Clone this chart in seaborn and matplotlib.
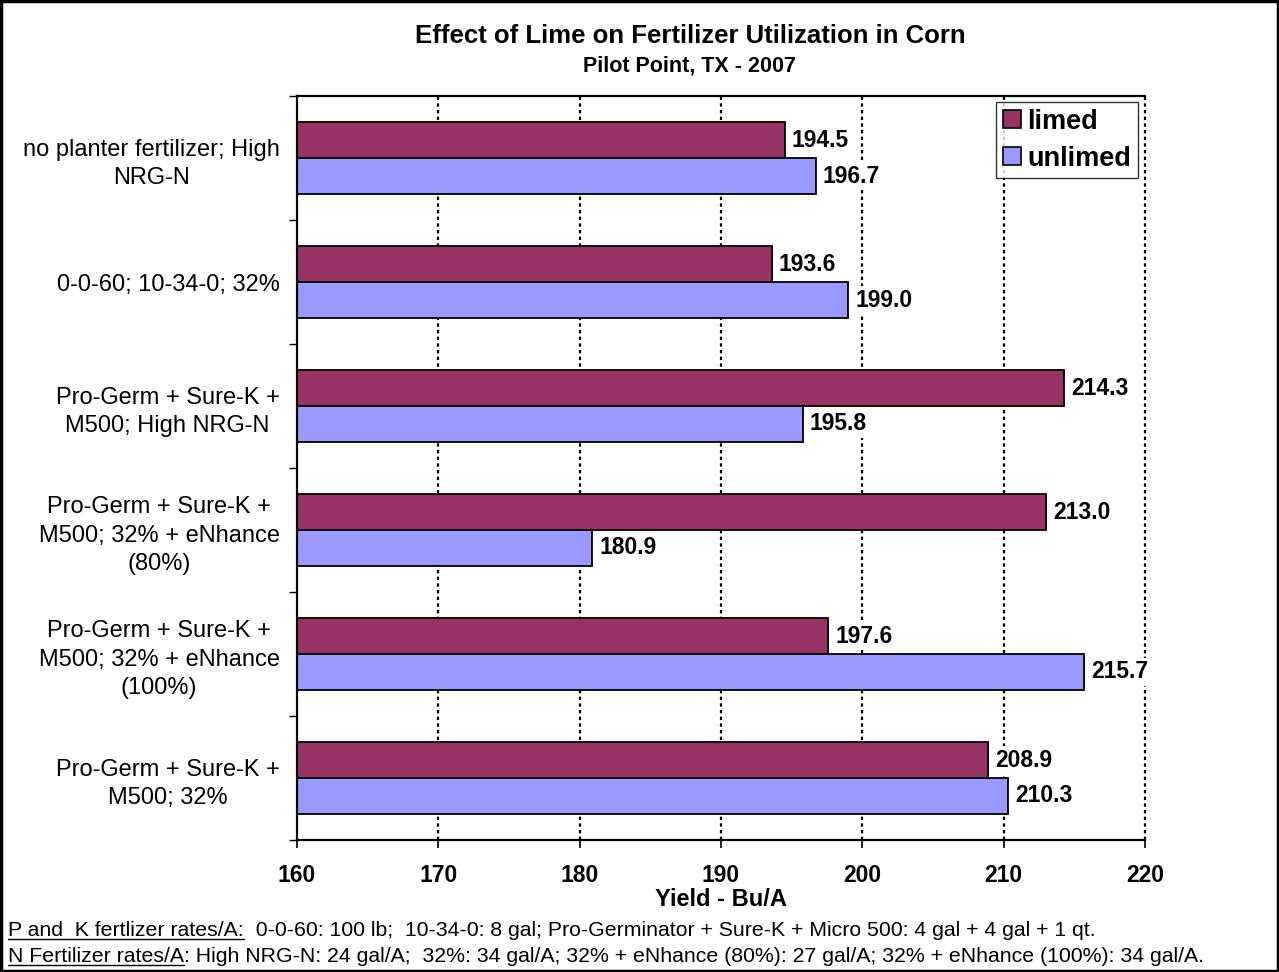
import pandas as pd
import matplotlib
matplotlib.use('Agg')
import matplotlib.pyplot as plt
from matplotlib.lines import Line2D
from matplotlib.patches import Rectangle
import seaborn as sns

# Data (top to bottom)
treatments = ['no planter fertilizer; High\nNRG-N',
              '0-0-60; 10-34-0; 32%',
              'Pro-Germ + Sure-K +\nM500; High NRG-N',
              'Pro-Germ + Sure-K +\nM500; 32% + eNhance\n(80%)',
              'Pro-Germ + Sure-K +\nM500; 32% + eNhance\n(100%)',
              'Pro-Germ + Sure-K +\nM500; 32%']
limed = [194.5, 193.6, 214.3, 213.0, 197.6, 208.9]
unlimed = [196.7, 199.0, 195.8, 180.9, 215.7, 210.3]
x_ticks = [160, 170, 180, 190, 200, 210, 220]

df = pd.DataFrame({
    'treatment': treatments * 2,
    'yield': limed + unlimed,
    'lime': ['limed'] * len(limed) + ['unlimed'] * len(unlimed),
})

sns.set_style('white')
plt.rcParams['font.family'] = ['Liberation Sans', 'DejaVu Sans']
plt.rcParams['text.color'] = 'black'
plt.rcParams['axes.labelcolor'] = 'black'
plt.rcParams['xtick.color'] = 'black'
plt.rcParams['ytick.color'] = 'black'

fig = plt.figure(figsize=(12.79, 9.72), dpi=100)
ax = fig.add_axes([0.2322, 0.1358, 0.663, 0.7654])

# Dotted vertical gridlines, drawn under the bars
for xv in x_ticks[1:]:
    ax.axvline(xv, color='black', linestyle=(0, (1.5, 1.5)), linewidth=1.6, zorder=0,
               clip_on=False)

sns.barplot(data=df, y='treatment', x='yield', hue='lime', order=treatments,
            hue_order=['limed', 'unlimed'],
            palette={'limed': '#993366', 'unlimed': '#9999FF'},
            orient='h', width=0.58, gap=0, edgecolor='black', linewidth=1.3,
            saturation=1, ax=ax, zorder=2)

ax.set_xlim(160, 220)
ax.set_ylim(5.5, -0.5)
ax.set_xticks(x_ticks)
ax.set_xticklabels([str(v) for v in x_ticks])
ax.tick_params(axis='x', length=6, width=1.2, direction='out', pad=11, bottom=True,
               labelsize=16.5)
for lbl in ax.get_xticklabels():
    lbl.set_fontweight('bold')
ax.tick_params(axis='y', which='major', length=0, labelsize=17, pad=12.5)
ax.set_yticks([i - 0.5 for i in range(len(treatments) + 1)], minor=True)
ax.tick_params(axis='y', which='minor', length=6, width=1.0, direction='out', left=True)
for lbl in ax.get_yticklabels():
    lbl.set_multialignment('center')
    lbl.set_linespacing(1.38)
ax.set_ylabel('')
ax.set_xlabel('Yield - Bu/A', fontsize=17, fontweight='bold', labelpad=1)

for side in ['left', 'bottom', 'top']:
    ax.spines[side].set_color('black')
    ax.spines[side].set_linewidth(1.6)
ax.spines['right'].set_visible(False)

# Value labels
for container in ax.containers:
    ax.bar_label(container, fmt='%.1f', padding=5, fontsize=16.5, fontweight='bold',
                 bbox=dict(facecolor='white', edgecolor='none', pad=1.5), zorder=3)

leg = ax.legend(loc='upper right', bbox_to_anchor=(0.9917, 0.992),
                prop={'weight': 'bold', 'size': 19.5}, frameon=True, fancybox=False,
                handlelength=0.65, handleheight=0.65, handletextpad=0.25,
                borderpad=0.25, labelspacing=0.4, borderaxespad=0)
leg.get_frame().set_edgecolor('black')
leg.get_frame().set_linewidth(1.0)
for h in leg.legend_handles:
    h.set_edgecolor('black')
    h.set_linewidth(1.2)

fig.text(690 / 1279, 1 - 36 / 972, 'Effect of Lime on Fertilizer Utilization in Corn',
         ha='center', va='center', fontsize=18.5, fontweight='bold')
fig.text(690 / 1279, 1 - 66 / 972, 'Pilot Point, TX - 2007', ha='center', va='center',
         fontsize=15.5, fontweight='bold')

# Footnotes with underlined lead-ins
notes = [('P and  K fertlizer rates/A:',
          '  0-0-60: 100 lb;  10-34-0: 8 gal; Pro-Germinator + Sure-K + Micro 500: 4 gal + 4 gal + 1 qt.',
          1 - 930 / 972),
         ('N Fertilizer rates/A',
          ': High NRG-N: 24 gal/A;  32%: 34 gal/A; 32% + eNhance (80%): 27 gal/A; 32% + eNhance (100%): 34 gal/A.',
          1 - 956 / 972)]
fig.canvas.draw()
renderer = fig.canvas.get_renderer()
for head, rest, yy in notes:
    t1 = fig.text(8 / 1279, yy, head, ha='left', va='center', fontsize=15.3)
    bb = t1.get_window_extent(renderer)
    fig.add_artist(Line2D([bb.x0, bb.x1], [bb.y0 + 1, bb.y0 + 1], color='black',
                          linewidth=1.0, transform=None))
    fig.text(bb.x1 / fig.bbox.width, yy, rest, ha='left', va='center', fontsize=15.3)

fig.add_artist(Rectangle((0.001, 0.001), 0.998, 0.998, transform=fig.transFigure,
                         fill=False, edgecolor='black', linewidth=2.5))

fig.savefig('out.png', dpi=100)
